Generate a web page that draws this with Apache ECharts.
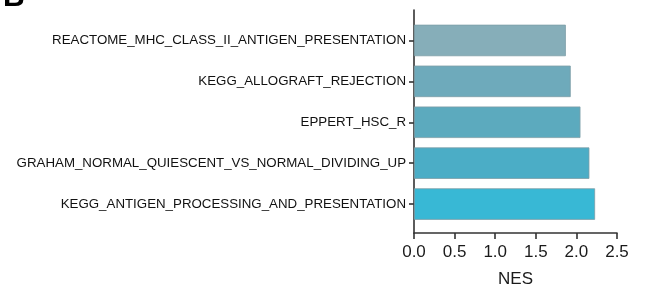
<!DOCTYPE html>
<html>
<head>
<meta charset="utf-8">
<script src="https://cdn.jsdelivr.net/npm/echarts@6/dist/echarts.min.js"></script>
<style>
  html, body { margin: 0; padding: 0; background: #fff; }
  #chart { width: 645px; height: 293px; }
</style>
</head>
<body>
<div id="chart"></div>
<script>
// gene sets, top to bottom
var categories = [
  'REACTOME_MHC_CLASS_II_ANTIGEN_PRESENTATION',
  'KEGG_ALLOGRAFT_REJECTION',
  'EPPERT_HSC_R',
  'GRAHAM_NORMAL_QUIESCENT_VS_NORMAL_DIVIDING_UP',
  'KEGG_ANTIGEN_PROCESSING_AND_PRESENTATION'
];
var nesValues = [1.87, 1.93, 2.05, 2.16, 2.23];
var barColors = ['#86aeb9', '#6eaabb', '#5caabe', '#4badc6', '#38b8d5'];
var xTicks = [0, 0.5, 1.0, 1.5, 2.0, 2.5];

var chart = echarts.init(document.getElementById('chart'), null, { renderer: 'canvas' });
var font = 'Liberation Sans';

var option = {
  animation: false,
  title: {
    text: 'B',
    left: -2,
    top: -22,
    textStyle: { fontSize: 30, fontWeight: 'bold', color: '#000', fontFamily: font }
  },
  grid: [
    // axis frame
    { left: 414, right: 28, top: 10, bottom: 58.5 },
    // bar band area
    { left: 414, right: 28, top: 20, bottom: 68.5 }
  ],
  xAxis: [{
    gridIndex: 0,
    type: 'value',
    min: 0,
    max: 2.5,
    interval: 0.5,
    name: 'NES',
    nameLocation: 'middle',
    nameGap: 38,
    nameTextStyle: { fontSize: 17, color: '#1a1a1a', fontFamily: font },
    axisLine: { show: true, lineStyle: { color: '#333', width: 1.6 } },
    axisTick: { show: true, length: 6, lineStyle: { color: '#333', width: 1.6 } },
    axisLabel: {
      fontSize: 17, color: '#1a1a1a', fontFamily: font, margin: 11,
      formatter: function (v) { return xTicks.indexOf(v) >= 0 ? v.toFixed(1) : ''; }
    },
    splitLine: { show: false }
  }, {
    gridIndex: 1,
    type: 'value',
    min: 0,
    max: 2.5,
    show: false
  }],
  yAxis: [{
    gridIndex: 0,
    type: 'value',
    min: 0,
    max: 1,
    axisLine: { show: true, lineStyle: { color: '#333', width: 1.6 } },
    axisTick: { show: false },
    axisLabel: { show: false },
    splitLine: { show: false }
  }, {
    gridIndex: 1,
    type: 'category',
    inverse: true,
    data: categories,
    axisLine: { show: false },
    axisTick: { show: true, alignWithLabel: true, length: 5, lineStyle: { color: '#333', width: 1.6 } },
    axisLabel: { fontSize: 13.3, color: '#111', fontFamily: font, margin: 8 }
  }],
  series: [{
    type: 'bar',
    xAxisIndex: 1,
    yAxisIndex: 1,
    barCategoryGap: '23%',
    data: nesValues.map(function (v, i) {
      return {
        value: v,
        itemStyle: { color: barColors[i], borderColor: '#7e9ea7', borderWidth: 0.8 }
      };
    })
  }]
};
chart.setOption(option);
</script>
</body>
</html>
